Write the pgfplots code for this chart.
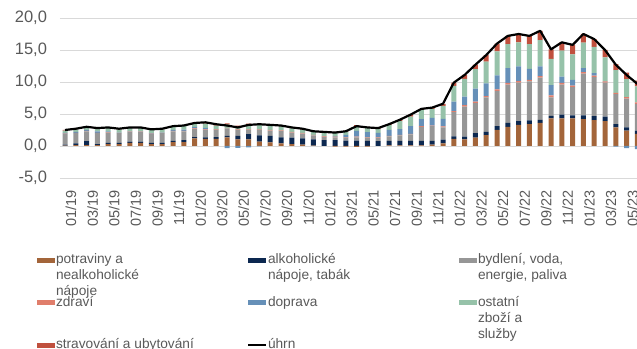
\documentclass[border=0pt]{standalone}
\usepackage{fontspec}
\setmainfont{Liberation Sans}
\usepackage{pgfplots}
\usepackage{pgfplotstable}
\pgfplotsset{compat=1.18}

\definecolor{potc}{RGB}{163,101,58}
\definecolor{alkc}{RGB}{12,40,80}
\definecolor{bydc}{RGB}{150,150,150}
\definecolor{zdrc}{RGB}{224,126,107}
\definecolor{dopc}{RGB}{102,144,184}
\definecolor{ostc}{RGB}{150,194,169}
\definecolor{strc}{RGB}{192,80,62}
\definecolor{gridc}{RGB}{217,217,217}
\definecolor{labc}{RGB}{89,89,89}

\pgfplotstableread{
i  pot  alk  byd  zdr  dop  ost  str  tot
0  0.05 0.15 1.7  0.05 0.1  0.35 0.1  2.5
1  0.15 0.25 1.6  0.05 0.15 0.4  0.1  2.7
2  0.15 0.6  1.55 0.05 0.15 0.4  0.1  3.0
3  0.15 0.15 1.7  0.05 0.25 0.4  0.1  2.8
4  0.3  0.2  1.6  0.05 0.15 0.5  0.1  2.9
5  0.3  0.2  1.5  0.05 0.05 0.5  0.1  2.7
6  0.5  0.2  1.5  0.05 0.05 0.5  0.1  2.9
7  0.5  0.2  1.5  0.05 0.05 0.5  0.1  2.9
8  0.3  0.2  1.4  0.05 0.05 0.5  0.1  2.6
9  0.3  0.2  1.5  0.05 0.05 0.5  0.1  2.7
10 0.6  0.2  1.5  0.05 0.15 0.5  0.1  3.1
11 0.6  0.3  1.4  0.05 0.2  0.55 0.1  3.2
12 1.2  0.2  1.25 0.1  0.25 0.45 0.15 3.6
13 1.1  0.25 1.15 0.1  0.25 0.65 0.2  3.7
14 1.1  0.3  1.1  0.1  0.05 0.55 0.2  3.4
15 1.35 0.25 1.15 0.1  0    0.5  0.2  3.2
16 1.05 0.55 0.9  0.1  0    0.4  0.2  2.9
17 1.05 0.8  0.7  0.1  0    0.65 0.2  3.3
18 0.7  0.95 0.9  0.1  0    0.6  0.2  3.4
19 0.55 1.05 0.8  0.1  0    0.65 0.2  3.3
20 0.4  0.95 1.0  0.1  0    0.6  0.2  3.2
21 0.3  1.0  0.8  0.1  0    0.55 0.2  2.9
22 0.2  1.0  0.75 0.1  0    0.5  0.2  2.7
23 0.05 1.0  0.6  0.1  0    0.4  0.15 2.3
24 0    0.9  0.5  0.1  0.05 0.55 0.15 2.2
25 0    0.9  0.45 0.1  0.1  0.5  0.15 2.1
26 0    0.85 0.45 0.1  0.35 0.5  0.15 2.3
27 0    0.85 0.5  0.1  0.9  0.7  0.2  3.1
28 0    0.8  0.5  0.1  0.75 0.7  0.15 2.9
29 0    0.75 0.5  0.1  0.7  0.6  0.15 2.8
30 0.1  0.7  0.7  0.1  0.9  0.75 0.15 3.4
31 0.1  0.7  0.85 0.1  0.9  1.25 0.2  4.1
32 0.1  0.7  1.0  0.1  1.2  1.5  0.3  4.9
33 0.1  0.7  2.2  0.1  1.1  1.4  0.2  5.8
34 0.2  0.6  2.3  0.1  1.2  1.4  0.2  6.0
35 0.4  0.6  1.9  0.15 1.2  2.0  0.35 6.6
36 1.1  0.4  3.8  0.15 1.5  2.45 0.5  9.9
37 1.05 0.4  4.7  0.25 1.3  2.8  0.6  11.1
38 1.3  0.7  4.7  0.25 2.0  3.05 0.7  12.7
39 1.7  0.5  5.4  0.2  2.0  3.4  1.0  14.2
40 2.5  0.6  5.5  0.25 2.2  3.75 1.2  16.0
41 3.0  0.6  6.0  0.25 2.3  3.75 1.3  17.2
42 3.3  0.6  6.0  0.25 2.3  3.75 1.3  17.5
43 3.4  0.6  6.1  0.25 1.7  3.85 1.3  17.2
44 3.6  0.5  6.6  0.2  1.55 4.1  1.45 18.0
45 4.3  0.4  2.9  0.3  1.6  4.1  1.5  15.1
46 4.3  0.6  4.7  0.25 1.0  4.05 1.3  16.2
47 4.3  0.5  4.4  0.25 0.9  3.95 1.5  15.8
48 4.2  0.6  6.5  0.25 0.6  4.0  1.35 17.5
49 4.05 0.6  6.1  0.25 0.4  4.1  1.2  16.7
50 3.9  0.7  5.3  0.2  0.05 3.7  1.15 15.0
51 2.9  0.5  4.7  0.2  0    3.55 0.95 12.7
52 2.4  0.5  4.5  0.25 0    2.8  1.0  11.1
53 1.9  0.5  4.2  0.2  0    2.5  0.9  9.7
}\datapos

\pgfplotstableread{
i  potn  dopn
15 0     -0.35
16 0     -0.3
17 0     -0.2
18 0     -0.05
25 -0.1  0
26 -0.1  0
27 -0.15 0
28 -0.1  0
51 0     -0.1
52 0     -0.35
53 0     -0.5
}\dataneg

\pgfplotsset{
  base/.style={
    scale only axis, width=588.2bp, height=160bp,
    xmin=-0.463, xmax=54, ymin=-5, ymax=20,
    at={(60bp,171bp)}, anchor=south west,
  },
  sw/.style={legend image code/.code={\path[##1,draw=none] (0bp,0.8bp) rectangle (18bp,5.8bp);}},
  lw/.style={legend image code/.code={\draw[##1] (0bp,3.3bp) -- (18bp,3.3bp);}},
}

\begin{document}
\begin{tikzpicture}
\useasboundingbox (0,0) rectangle (637bp,349bp);
\clip (0,0) rectangle (637bp,349bp);

\begin{axis}[base, ybar stacked, bar width=5bp,
  axis line style={draw=none}, tick style={draw=none}, major tick length=0pt,
  ytick={-5,0,5,10,15,20}, ymajorgrids, grid style={color=gridc, line width=0.9bp},
  xtick={0,2,...,52},
  xticklabels={01/19,03/19,05/19,07/19,09/19,11/19,01/20,03/20,05/20,07/20,09/20,11/20,01/21,03/21,05/21,07/21,09/21,11/21,01/22,03/22,05/22,07/22,09/22,11/22,01/23,03/23,05/23},
  xticklabel style={rotate=90, anchor=east, font=\fontsize{14.5bp}{16bp}\selectfont, text=labc, xshift=-8.5bp, yshift=-6bp},
  yticklabel style={font=\fontsize{16.5bp}{18bp}\selectfont, text=labc, xshift=-9.5bp,
    /pgf/number format/fixed, /pgf/number format/fixed zerofill,
    /pgf/number format/precision=1, /pgf/number format/use comma,
    /pgf/number format/assume math mode=true},
  legend columns=3,
  legend style={at={(axis description cs:-0.0391,-0.473)}, anchor=north west,
    draw=none, fill=none, inner sep=0pt, outer sep=0pt,
    column sep=1bp, row sep=30.8bp,
    cells={anchor=base west},
    nodes={inner sep=0pt, text=labc, font=\fontsize{13.7bp}{16bp}\selectfont}},
]
\addplot[fill=potc, draw=none, sw] table[x=i, y=pot] {\datapos};
\addlegendentry{\parbox[t]{190bp}{potraviny a\\nealkoholické\\nápoje}}
\addplot[fill=alkc, draw=none, sw] table[x=i, y=alk] {\datapos};
\addlegendentry{\parbox[t]{190bp}{alkoholické\\nápoje, tabák}}
\addplot[fill=bydc, draw=none, sw] table[x=i, y=byd] {\datapos};
\addlegendentry{\parbox[t]{190bp}{bydlení, voda,\\energie, paliva}}
\addplot[fill=zdrc, draw=none, sw] table[x=i, y=zdr] {\datapos};
\addlegendentry{\parbox[t]{190bp}{zdraví}}
\addplot[fill=dopc, draw=none, sw] table[x=i, y=dop] {\datapos};
\addlegendentry{\parbox[t]{190bp}{doprava}}
\addplot[fill=ostc, draw=none, sw] table[x=i, y=ost] {\datapos};
\addlegendentry{\parbox[t]{190bp}{ostatní\\zboží a\\služby}}
\addplot[fill=strc, draw=none, sw] table[x=i, y=str] {\datapos};
\addlegendentry{\parbox[t]{190bp}{stravování a ubytování}}
\addlegendimage{black, line width=2bp, lw}
\addlegendentry{\parbox[t]{190bp}{úhrn}}
\end{axis}

\begin{axis}[base, hide axis, ybar stacked, bar width=5bp]
\addplot[fill=potc, draw=none] table[x=i, y=potn] {\dataneg};
\addplot[fill=dopc, draw=none] table[x=i, y=dopn] {\dataneg};
\end{axis}

\begin{axis}[base, hide axis]
\addplot[black, line width=2.2bp, line join=round, mark=none] table[x=i, y=tot] {\datapos};
\end{axis}
\end{tikzpicture}
\end{document}
